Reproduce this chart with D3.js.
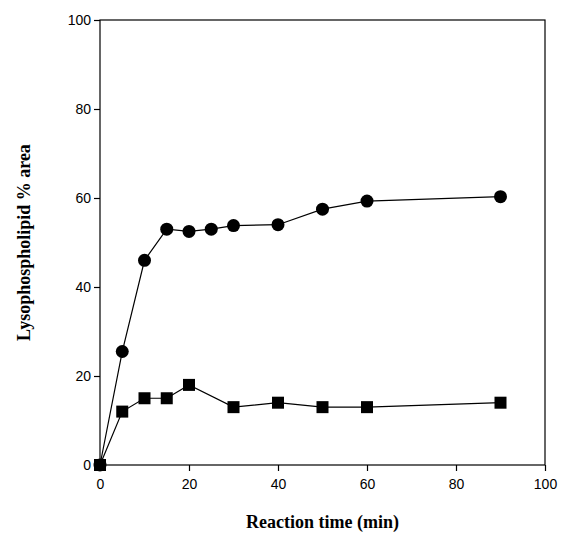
<!DOCTYPE html>
<html><head><meta charset="utf-8">
<script src="https://cdn.jsdelivr.net/npm/d3@7"></script>
<style>body{margin:0;background:#fff}</style></head>
<body><svg id="c" width="569" height="546"></svg>
<script>
const timeCircle=[0,5,10,15,20,25,30,40,50,60,90];
const valCircle=[0,25.5,46,53,52.5,53,53.8,54,57.5,59.3,60.3];
const timeSquare=[0,5,10,15,20,30,40,50,60,90];
const valSquare=[0,12,15,15,18,13,14,13,13,14];
const xTicks=[0,20,40,60,80,100];
const yTicks=[0,20,40,60,80,100];
const svg=d3.select("#c");
const L=100,R=545,T=20,B=465;
const x=d3.scaleLinear().domain([0,100]).range([L,R]);
const y=d3.scaleLinear().domain([0,100]).range([B,T]);
svg.append("rect").attr("x",L).attr("y",T).attr("width",R-L).attr("height",B-T).attr("fill","none").attr("stroke","#000").attr("stroke-width",1.2);
const xa=svg.append("g").attr("transform",`translate(0,${B})`).call(d3.axisBottom(x).tickValues(xTicks).tickSize(6).tickSizeOuter(0));
const ya=svg.append("g").attr("transform",`translate(${L},0)`).call(d3.axisLeft(y).tickValues(yTicks).tickSize(6).tickSizeOuter(0));
[xa,ya].forEach(a=>{a.select(".domain").remove();a.selectAll("line").attr("stroke-width",1.2);a.selectAll("text").attr("font-family","Liberation Sans, Arial").attr("font-size",14).attr("fill","#000");});
xa.selectAll("text").attr("dy","1.1em");
svg.append("text").attr("x",(L+R)/2).attr("y",528).attr("text-anchor","middle").attr("font-family","Liberation Serif").attr("font-weight","bold").attr("font-size",18).text("Reaction time (min)");
svg.append("text").attr("transform",`translate(30,${(T+B)/2}) rotate(-90)`).attr("text-anchor","middle").attr("font-family","Liberation Serif").attr("font-weight","bold").attr("font-size",18).text("Lysophospholipid % area");
const line=d3.line().x(d=>x(d[0])).y(d=>y(d[1]));
const c=timeCircle.map((t,i)=>[t,valCircle[i]]);
const s=timeSquare.map((t,i)=>[t,valSquare[i]]);
[c,s].forEach(d=>svg.append("path").datum(d).attr("d",line).attr("fill","none").attr("stroke","#000").attr("stroke-width",1.2));
svg.selectAll(".ci").data(c).enter().append("circle").attr("cx",d=>x(d[0])).attr("cy",d=>y(d[1])).attr("r",6.5).attr("fill","#000");
svg.selectAll(".sq").data(s).enter().append("rect").attr("x",d=>x(d[0])-6).attr("y",d=>y(d[1])-6).attr("width",12).attr("height",12).attr("fill","#000");
</script></body></html>
